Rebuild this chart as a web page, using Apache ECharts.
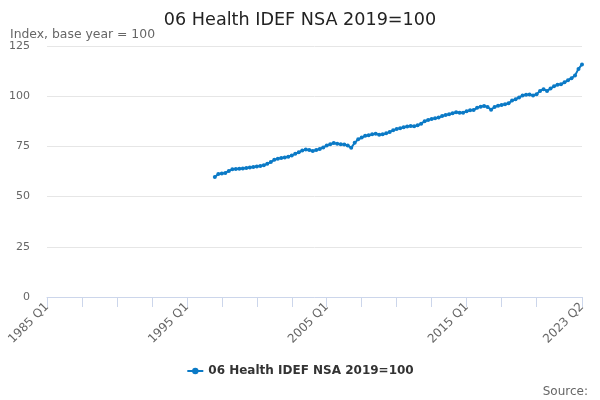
<!DOCTYPE html>
<html>
<head>
<meta charset="utf-8">
<script src="https://cdn.jsdelivr.net/npm/echarts@6/dist/echarts.min.js"></script>
<style>html,body{margin:0;padding:0;background:#fff}#c{width:600px;height:400px}</style>
</head>
<body>
<div id="c"></div>
<script>
const firstYear = 1985, lastYear = 2023, lastQuarter = 2;
const seriesName = '06 Health IDEF NSA 2019=100';
const seriesStart = '1997 Q1';
const values = [
  59.8, 61.3, 61.5, 61.8, 62.8, 63.6, 63.8, 63.9, 64.0, 64.2,
  64.5, 64.7, 65.0, 65.3, 65.6, 66.3, 67.2, 68.3, 68.8, 69.2,
  69.5, 69.9, 70.5, 71.3, 72.1, 72.9, 73.5, 73.2, 72.7, 73.2,
  73.7, 74.5, 75.4, 76.1, 76.7, 76.3, 76.1, 76.0, 75.5, 74.3,
  76.8, 78.5, 79.4, 80.3, 80.6, 81.0, 81.3, 80.8, 81.0, 81.5,
  82.2, 83.0, 83.7, 84.1, 84.5, 84.9, 85.2, 85.0, 85.5, 86.3,
  87.5, 88.2, 88.6, 89.0, 89.4, 90.1, 90.6, 91.0, 91.5, 92.0,
  91.8, 91.8, 92.5, 93.0, 93.1, 94.2, 94.8, 95.1, 94.6, 93.3,
  94.6, 95.3, 95.6, 96.0, 96.5, 97.8, 98.5, 99.4, 100.3, 100.7,
  100.9, 100.4, 101.0, 102.6, 103.5, 102.6, 103.8, 105.0, 105.7, 105.9,
  106.9, 108.0, 109.0, 110.3, 113.6, 115.8
];
const categories = [];
for (let y = firstYear; y <= lastYear; y++) {
  for (let q = 1; q <= 4; q++) {
    if (y === lastYear && q > lastQuarter) break;
    categories.push(y + ' Q' + q);
  }
}
const startIdx = categories.indexOf(seriesStart);
const data = categories.map((c, i) => (i >= startIdx && i - startIdx < values.length) ? values[i - startIdx] : null);
const lastIdx = categories.length - 1;

const chart = echarts.init(document.getElementById('c'));
chart.setOption({
  animation: false,
  textStyle: { fontFamily: 'DejaVu Sans' },
  title: [{
    text: '06 Health IDEF NSA 2019=100',
    left: 'center', top: 6,
    textStyle: { fontSize: 17.6, fontWeight: 'normal', color: '#222222', fontFamily: 'DejaVu Sans' }
  }, {
    text: 'Index, base year = 100',
    left: 5, top: 24,
    textStyle: { fontSize: 12.4, fontWeight: 'normal', color: '#666666', fontFamily: 'DejaVu Sans' }
  }, {
    text: 'Source:',
    right: 7, top: 381,
    textStyle: { fontSize: 12, fontWeight: 'normal', color: '#666666', fontFamily: 'DejaVu Sans' }
  }],
  grid: { left: 47, right: 18, top: 46, bottom: 103, containLabel: false },
  legend: {
    bottom: 18, left: 'center',
    itemWidth: 16, itemHeight: 8,
    textStyle: { fontSize: 12, fontWeight: 'bold', color: '#333333' },
    data: [seriesName]
  },
  xAxis: {
    type: 'category',
    data: categories,
    boundaryGap: false,
    axisLine: { lineStyle: { color: '#ccd6eb' } },
    axisTick: {
      length: 10,
      lineStyle: { color: '#ccd6eb' },
      interval: (i) => (i % 10 === 0 && i <= 140) || i === lastIdx
    },
    axisLabel: {
      rotate: 45, color: '#666666', fontSize: 12, margin: 8,
      interval: (i) => i % 40 === 0 || i === lastIdx
    },
    splitLine: { show: false }
  },
  yAxis: {
    type: 'value',
    min: 0, max: 125, interval: 25,
    axisLine: { show: false },
    axisTick: { show: false },
    axisLabel: { color: '#666666', fontSize: 11, margin: 17 },
    splitLine: { lineStyle: { color: '#e6e6e6' } }
  },
  series: [{
    name: seriesName,
    type: 'line',
    data: data,
    connectNulls: false,
    symbol: 'circle',
    symbolSize: 4,
    showSymbol: true,
    showAllSymbol: true,
    itemStyle: { color: '#0b7ac6' },
    lineStyle: { width: 2, color: '#0b7ac6' }
  }]
});
</script>
</body>
</html>
